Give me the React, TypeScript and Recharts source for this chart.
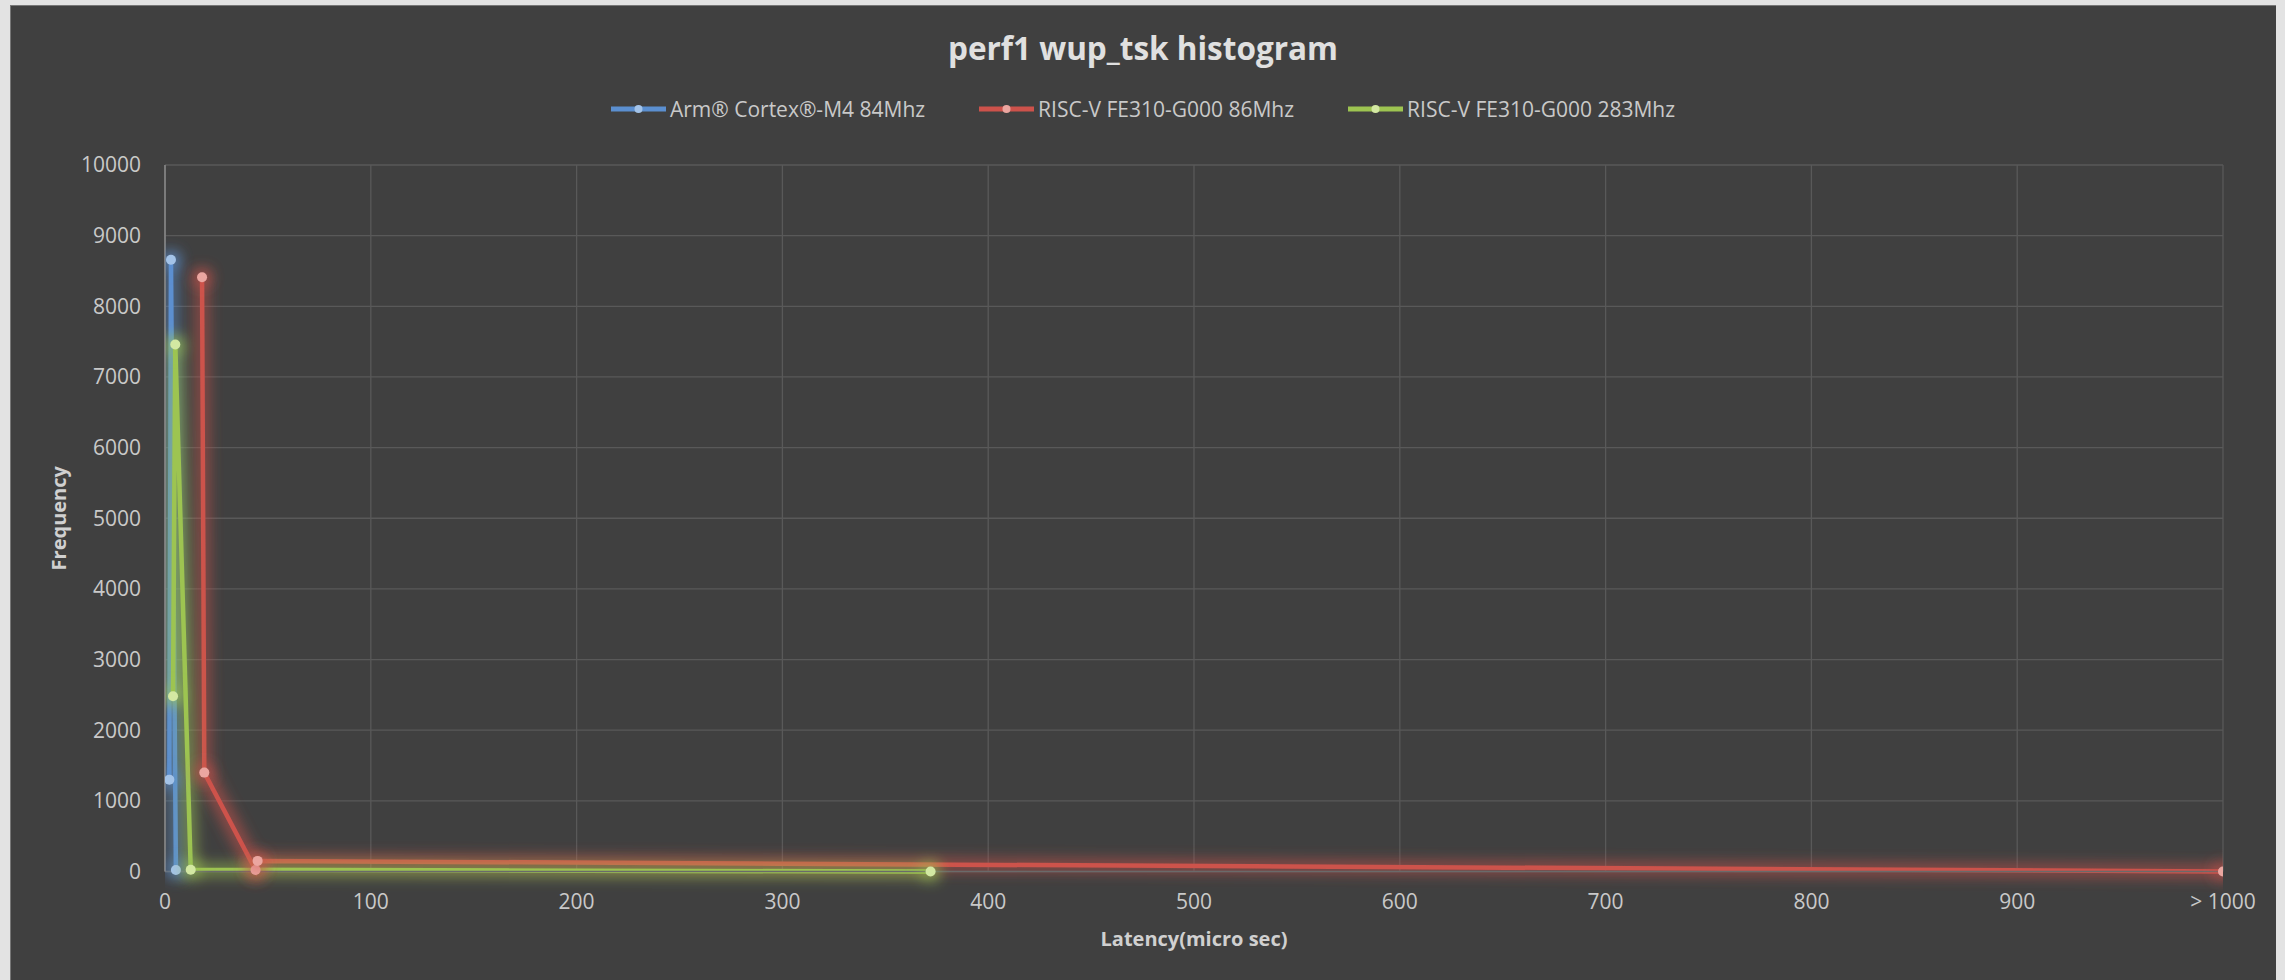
import React from "react";
import {
  LineChart,
  Line,
  XAxis,
  YAxis,
  CartesianGrid,
  Legend,
  Label,
} from "recharts";

// latency bins (micro sec) and how often each one was hit
const armM4At84 = [
  { latency: 2.1, count: 1300 },
  { latency: 2.9, count: 8660 },
  { latency: 5.3, count: 20 },
];
const fe310At86 = [
  { latency: 18, count: 8410 },
  { latency: 19.1, count: 1400 },
  { latency: 44, count: 20 },
  { latency: 45, count: 150 },
  { latency: 1000, count: 0 },
];
const fe310At283 = [
  { latency: 3.9, count: 2480 },
  { latency: 5, count: 7460 },
  { latency: 12.5, count: 25 },
  { latency: 372, count: 0 },
];

const latencyTicks = [0, 100, 200, 300, 400, 500, 600, 700, 800, 900, 1000];
const frequencyTicks = [0, 1000, 2000, 3000, 4000, 5000, 6000, 7000, 8000, 9000, 10000];

const W = 2266;
const H = 975;
const FONT = "'Open Sans', sans-serif";
const TEXT = "#c9c9c9";

const series = [
  { name: "Arm® Cortex®-M4 84Mhz", data: armM4At84, color: "#5b8fd0", dot: "#a3c3e8", glow: "glowBlue" },
  { name: "RISC-V FE310-G000 86Mhz", data: fe310At86, color: "#cd524b", dot: "#eba6a0", glow: "glowRed" },
  { name: "RISC-V FE310-G000 283Mhz", data: fe310At283, color: "#9dc451", dot: "#d3e8a2", glow: "glowGreen" },
];

function GlowFilter({ id, color }: { id: string; color: string }) {
  return (
    <filter id={id} filterUnits="userSpaceOnUse" x={0} y={0} width={W} height={H}>
      <feMorphology in="SourceAlpha" operator="dilate" radius={4} result="wide" />
      <feGaussianBlur in="wide" stdDeviation={7} result="soft" />
      <feFlood floodColor={color} floodOpacity={0.6} />
      <feComposite in2="soft" operator="in" result="halo" />
      <feMerge>
        <feMergeNode in="halo" />
        <feMergeNode in="SourceGraphic" />
      </feMerge>
    </filter>
  );
}

function LegendRow() {
  return (
    <div
      style={{
        display: "flex",
        justifyContent: "center",
        alignItems: "center",
        height: 30,
        fontFamily: FONT,
        fontSize: 21,
        color: TEXT,
      }}
    >
      {series.map((s, i) => (
        <div
          key={s.name}
          style={{ display: "flex", alignItems: "center", marginRight: i < series.length - 1 ? 54 : 0 }}
        >
          <svg width={55} height={14} style={{ marginRight: 4 }}>
            <line x1={0} y1={7} x2={55} y2={7} stroke={s.color} strokeWidth={5} />
            <circle cx={27.5} cy={7} r={4} fill={s.dot} />
          </svg>
          <span style={{ whiteSpace: "nowrap" }}>{s.name}</span>
        </div>
      ))}
    </div>
  );
}

export default function App() {
  return (
    <div
      style={{
        position: "absolute",
        left: 0,
        top: 0,
        width: 2285,
        height: 980,
        background: "#e3e3e3",
      }}
    >
      <div
        style={{
          position: "absolute",
          left: 10,
          top: 5,
          width: W,
          height: H,
          background: "#404040",
          boxShadow: "inset 1px 1px 0 #777",
        }}
      >
        <div
          style={{
            position: "absolute",
            top: 27,
            left: 0,
            width: W,
            textAlign: "center",
            fontFamily: FONT,
            fontWeight: 700,
            fontSize: 31.5,
            lineHeight: "31px",
            color: "#e0e0e0",
          }}
        >
          perf1 wup_tsk histogram
        </div>
        <LineChart width={W} height={H} margin={{ top: 130, right: 53, left: 0, bottom: 0 }}>
          <defs>
            {series.map((s) => (
              <GlowFilter key={s.glow} id={s.glow} color={s.color} />
            ))}
          </defs>
          <CartesianGrid stroke="#595959" strokeWidth={1.3} />
          <XAxis
            type="number"
            dataKey="latency"
            domain={[0, 1000]}
            ticks={latencyTicks}
            tickFormatter={(v) => (v === 1000 ? "> 1000" : String(v))}
            tick={{ fill: TEXT, fontSize: 21, fontFamily: FONT }}
            tickLine={false}
            tickSize={0}
            tickMargin={23}
            axisLine={{ stroke: "#6a6a6a", strokeWidth: 1.3 }}
            height={108.5}
            allowDataOverflow
          >
            <Label
              content={({ viewBox }: any) => (
                <text
                  x={viewBox.x + viewBox.width / 2}
                  y={viewBox.y + 67}
                  textAnchor="middle"
                  dominantBaseline="central"
                  fill="#d0d0d0"
                  fontFamily={FONT}
                  fontWeight={700}
                  fontSize={20}
                >
                  Latency(micro sec)
                </text>
              )}
            />
          </XAxis>
          <YAxis
            type="number"
            domain={[0, 10000]}
            ticks={frequencyTicks}
            tick={{ fill: TEXT, fontSize: 21, fontFamily: FONT }}
            tickLine={false}
            tickSize={0}
            tickMargin={24}
            axisLine={{ stroke: "#8a8a8a", strokeWidth: 1.5 }}
            width={155}
          >
            <Label
              content={({ viewBox }: any) => {
                const cx = viewBox.x + 48;
                const cy = viewBox.y + viewBox.height / 2;
                return (
                  <text
                    x={cx}
                    y={cy}
                    transform={`rotate(-90, ${cx}, ${cy})`}
                    textAnchor="middle"
                    dominantBaseline="central"
                    fill="#d0d0d0"
                    fontFamily={FONT}
                    fontWeight={700}
                    fontSize={20}
                  >
                    Frequency
                  </text>
                );
              }}
            />
          </YAxis>
          <Legend verticalAlign="top" content={() => <LegendRow />} wrapperStyle={{ top: 89, left: 0, width: W }} />
          {series.map((s) => (
            <Line
              key={s.name}
              name={s.name}
              data={s.data}
              dataKey="count"
              type="linear"
              stroke={s.color}
              strokeWidth={4.5}
              dot={{ r: 5, fill: s.dot, stroke: "none" }}
              activeDot={false}
              className={s.glow}
              style={{ filter: `url(#${s.glow})` }}
              isAnimationActive={false}
            />
          ))}
        </LineChart>
      </div>
    </div>
  );
}
